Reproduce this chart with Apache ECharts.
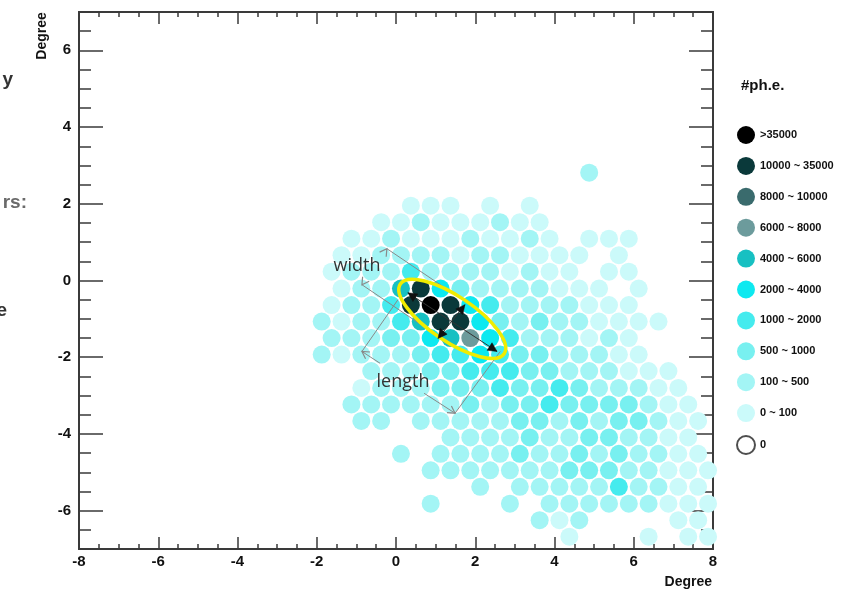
<!DOCTYPE html>
<html><head><meta charset="utf-8">
<script src="https://cdn.jsdelivr.net/npm/echarts@6/dist/echarts.min.js"></script>
<style>html,body{margin:0;padding:0;background:#fff;overflow:hidden}#c{width:858px;height:591px}</style>
</head><body><div id="c"></div>
<script>
// ---------------- data ----------------
// photo-electron levels (index 0 = lowest)
const levelNames = ['0 ~ 100','100 ~ 500','500 ~ 1000','1000 ~ 2000','2000 ~ 4000','4000 ~ 6000','6000 ~ 8000','8000 ~ 10000','10000 ~ 35000','>35000'];
const levelColors = ['#cbfafa','#a3f5f5','#78f0f0','#45ebee','#0de9f0','#17c0c2','#6c9b9c','#3a6b6d','#0a393a','#000000'];
// camera pixel rows (degrees)
const rowY = [2.81, 2.38, 1.95, 1.52, 1.09, 0.66, 0.23, -0.21, -0.64, -1.07, -1.50, -1.93, -2.36, -2.80, -3.23, -3.66, -4.09, -4.52, -4.95, -5.38, -5.82, -6.25, -6.68];
const rowStartX = [-2.125, -1.875, -2.125, -1.875, -2.125, -1.875, -2.125, -1.875, -2.125, -1.875, -2.125, -1.875, -2.125, -1.875, -2.125, -1.875, -2.125, -1.875, -2.125, -1.875, -2.125, -1.875, -2.125];
const pixelPitch = 0.5;
// one string per row: '.' = no pixel, digit = level index
const rowLevels = [
  '..............1......',
  '....................',
  '.....000.0.0.........',
  '...001000100........',
  '..00100010010.000....',
  '.0011110110000.0....',
  '.0111311110100.00....',
  '.01158421111000.0...',
  '.0113898431111000....',
  '101135884212110000..',
  '.1112245643111010....',
  '10111233432211100...',
  '...1112233322111000..',
  '..01112223223211100.',
  '..111111212232222100.',
  '..11.111112212122100',
  '.......1111211221100.',
  '....1.11112112121100',
  '......111111122211000',
  '........1.1111131100',
  '......1...1.111111000',
  '...........101....00',
  '.............0...0.00'
];
const xTickValues = [-8, -6, -4, -2, 0, 2, 4, 6, 8];
const yTickValues = [-6, -4, -2, 0, 2, 4, 6];
const legendOrder = ['>35000','10000 ~ 35000','8000 ~ 10000','6000 ~ 8000','4000 ~ 6000','2000 ~ 4000','1000 ~ 2000','500 ~ 1000','100 ~ 500','0 ~ 100','0'];

// ---------------- build ----------------
const FONT = '"Liberation Sans", Arial, Helvetica, sans-serif';
const pts = levelNames.map(() => []);
rowLevels.forEach((s, r) => {
  for (let c = 0; c < s.length; c++) {
    const ch = s[c];
    if (ch >= '0' && ch <= '9') pts[+ch].push([rowStartX[r] + pixelPitch * c, rowY[r]]);
  }
});
const series = [];
for (let lv = 9; lv >= 0; lv--) {
  series.push({type:'scatter', name:levelNames[lv], data:pts[lv], symbol:'circle', symbolSize:18,
    itemStyle:{color:levelColors[lv], opacity:1}, silent:true, z:2, animation:false});
}
series.push({type:'scatter', name:'0', data:[], symbol:'circle', symbolSize:18,
  itemStyle:{color:'#ffffff', borderColor:'#222', borderWidth:1}, animation:false});

const axisCol = '#3a3a3a';
function yAx(pos, major, labels) {
  return {type:'value', min:-7, max:7, interval:0.5, position:pos,
    axisLine:{show:true, onZero:false, lineStyle:{color:axisCol, width:2}},
    axisTick: major ? {show:true, inside:true, length:24, customValues:yTickValues, lineStyle:{color:axisCol, width:1.5}}
                    : {show:true, inside:true, length:12, lineStyle:{color:axisCol, width:1.5}},
    axisLabel: labels ? {show:true, customValues:yTickValues, margin:8, fontFamily:FONT, fontWeight:'bold', fontSize:15, color:'#111'} : {show:false},
    splitLine:{show:false}, minorTick:{show:false}};
}
function xAx(pos, labels) {
  return {type:'value', min:-8, max:8, interval:2, position:pos,
    axisLine:{show:true, onZero:false, lineStyle:{color:axisCol, width:2}},
    axisTick:{show:true, inside:true, length:12, lineStyle:{color:axisCol, width:1.5}},
    minorTick:{show:true, splitNumber:4, length:5, lineStyle:{color:axisCol, width:1.5}},
    axisLabel: labels ? {show:true, margin:5, fontFamily:FONT, fontWeight:'bold', fontSize:15, color:'#111'} : {show:false},
    splitLine:{show:false}};
}

const chart = echarts.init(document.getElementById('c'), null, {renderer:'canvas'});
chart.setOption({
  animation:false,
  backgroundColor:'#ffffff',
  grid:{left:79, right:145, top:12, bottom:42, containLabel:false},
  xAxis:[xAx('bottom', true), xAx('top', false)],
  yAxis:[yAx('left', false, true), yAx('left', true, false), yAx('right', false, false), yAx('right', true, false)],
  legend:{orient:'vertical', left:731, top:121, itemWidth:18, itemHeight:18, itemGap:12.9, icon:'circle',
    selectedMode:false, data:legendOrder,
    textStyle:{fontFamily:FONT, fontWeight:'bold', fontSize:11, color:'#111'}},
  series: series
});

// ---------------- annotations ----------------
const P = (p) => chart.convertToPixel({xAxisIndex:0, yAxisIndex:0}, p);
const ellipseCenter = [1.42, -1.00], ellipseTip = [2.73, -1.91], ellipseRatio = 0.36;
const majorA = [0.30, -0.32], majorB = [2.55, -1.85];
const minorA = [1.74, -0.63], minorB = [1.06, -1.51];
const wTop = [-0.23, 0.83], wTopEnd = [1.85, -0.62];
const wBot = [-0.86, -0.11], wBotEnd = [0.60, -1.13];
const lLeft = [-0.86, -1.85], lLeftEnd = [0.05, -0.50];
const lRight = [1.49, -3.46], lRightEnd = [2.63, -1.85];
const lMid1 = [-0.40, -2.16], lMid2 = [0.71, -2.94];

function head(tip, from, len, half) {
  const dx = tip[0]-from[0], dy = tip[1]-from[1], L = Math.hypot(dx, dy), ux = dx/L, uy = dy/L;
  const bx = tip[0]-ux*len, by = tip[1]-uy*len;
  return [[bx-uy*half, by+ux*half], [tip[0], tip[1]], [bx+uy*half, by-ux*half]];
}
const g = [];
const grey = '#8a8a8a';
function gline(a, b, col, w) { g.push({type:'line', shape:{x1:a[0], y1:a[1], x2:b[0], y2:b[1]}, style:{stroke:col, lineWidth:w}, z:50}); }
function openHead(tip, from) { g.push({type:'polyline', shape:{points:head(tip, from, 7, 4)}, style:{stroke:grey, lineWidth:1.2, fill:null}, z:50}); }
function fillHead(tip, from) { g.push({type:'polygon', shape:{points:head(tip, from, 9, 4.5)}, style:{fill:'#111', stroke:'#111', lineWidth:0.5}, z:52}); }

const c = P(ellipseCenter), t = P(ellipseTip);
const rx = Math.hypot(t[0]-c[0], t[1]-c[1]), ang = Math.atan2(t[1]-c[1], t[0]-c[0]);
g.push({type:'ellipse', x:c[0], y:c[1], rotation:-ang, shape:{cx:0, cy:0, rx:rx, ry:rx*ellipseRatio},
  style:{fill:null, stroke:'#f0ec00', lineWidth:3.5}, z:51});

// grey construction lines
const pWT = P(wTop), pWTE = P(wTopEnd), pWB = P(wBot), pWBE = P(wBotEnd);
const pLL = P(lLeft), pLLE = P(lLeftEnd), pLR = P(lRight), pLRE = P(lRightEnd);
const pM1 = P(lMid1), pM2 = P(lMid2);
gline(pWT, pWTE, grey, 1); gline(pWB, pWBE, grey, 1);
gline(pLL, pLLE, grey, 1); gline(pLR, pLRE, grey, 1);
gline(pLL, pM1, grey, 1); gline(pM2, pLR, grey, 1);
openHead(pWT, pWB); openHead(pWB, pWT);
openHead(pLL, pLR); openHead(pLR, pLL);

// black axis arrows
const pA = P(majorA), pB = P(majorB), pC = P(minorA), pD = P(minorB);
gline(pA, pB, '#333', 1); gline(pC, pD, '#333', 1);
fillHead(pA, pB); fillHead(pB, pA); fillHead(pC, pD); fillHead(pD, pC);

// texts
g.push({type:'text', x:357, y:266, style:{text:'width', font:'18px "Open Sans", sans-serif', fill:'#333', align:'center', verticalAlign:'middle'}, z:55});
g.push({type:'text', x:403, y:382, style:{text:'length', font:'18px "Open Sans", sans-serif', fill:'#333', align:'center', verticalAlign:'middle'}, z:55});
// axis titles
g.push({type:'text', x:712, y:582, style:{text:'Degree', font:'bold 14px ' + FONT, fill:'#111', align:'right', verticalAlign:'middle'}, z:55});
g.push({type:'text', x:42, y:36, rotation:Math.PI/2, style:{text:'Degree', font:'bold 14px ' + FONT, fill:'#111', align:'center', verticalAlign:'middle'}, z:55});
// legend title
g.push({type:'text', x:741, y:86, style:{text:'#ph.e.', font:'bold 15px ' + FONT, fill:'#111', align:'left', verticalAlign:'middle'}, z:55});
// cut-off slide text at left edge
g.push({type:'text', x:13, y:80, style:{text:'y', font:'bold 19px ' + FONT, fill:'#333', align:'right', verticalAlign:'middle'}, z:55});
g.push({type:'text', x:27, y:203, style:{text:'rs:', font:'bold 19px ' + FONT, fill:'#6a6a6a', align:'right', verticalAlign:'middle'}, z:55});
g.push({type:'text', x:7, y:311, style:{text:'e', font:'bold 19px ' + FONT, fill:'#333', align:'right', verticalAlign:'middle'}, z:55});

chart.setOption({graphic:g});
</script></body></html>
